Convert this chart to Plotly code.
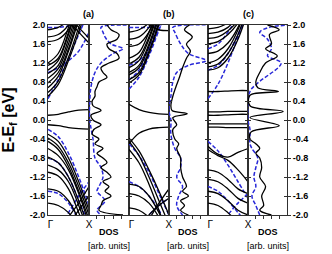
import plotly.graph_objects as go

# ---------------- data ----------------
K = [0.0, 0.25, 0.5, 0.75, 1.0]          # k-path samples (Gamma -> X)
Y_TICKS = [-2.0, -1.6, -1.2, -0.8, -0.4, 0.0, 0.4, 0.8, 1.2, 1.6, 2.0]
Y_TICK_TEXT = ["-2.0", "-1.6", "-1.2", "-0.8", "-0.4", "0.0", "0.4", "0.8", "1.2", "1.6", "2.0"]
K_LABELS = ["Γ", "X"]
PANEL_TITLES = ["(a)", "(b)", "(c)"]

BANDS_A_BLACK = [
    [0.50, 0.75, 1.25, 1.85, 2.5], [0.58, 0.82, 1.32, 1.95, 2.6], [0.68, 0.92, 1.45, 2.1, 2.7],
    [0.78, 1.0, 1.5, 2.2, 2.8], [0.88, 1.08, 1.6, 2.3, 2.9], [0.98, 1.15, 1.7, 2.4, 3.0],
    [1.05, 1.25, 1.8, 2.5, 3.0], [1.15, 1.3, 1.85, 2.5, 3.0], [1.2, 1.4, 1.95, 2.6, 3.0],
    [1.65, 1.7, 1.9, 2.3, 2.8], [1.75, 1.8, 2.0, 2.4, 2.8], [1.9, 1.95, 2.1, 2.4, 2.8],
    [2.6, 2.4, 2.1, 1.85, 1.62], [2.8, 2.5, 2.2, 1.95, 1.72],
    [0.10, 0.12, 0.17, 0.21, 0.22], [-0.10, -0.12, -0.16, -0.18, -0.19],
    [-0.30, -0.45, -0.8, -1.3, -1.9], [-0.38, -0.55, -0.9, -1.4, -2.0], [-0.45, -0.62, -0.98, -1.5, -2.1],
    [-0.6, -0.75, -1.05, -1.55, -2.2], [-0.78, -0.9, -1.2, -1.7, -2.3],
    [-0.95, -1.05, -1.3, -1.8, -2.4], [-1.1, -1.18, -1.45, -1.95, -2.5],
    [-1.45, -1.5, -1.7, -2.1, -2.6], [-1.75, -1.8, -1.95, -2.3, -2.8],
    [-2.8, -2.5, -2.05, -1.75, -1.4], [-3.0, -2.7, -2.2, -1.9, -1.6],
]
BANDS_A_BLUE = [
    [0.45, 0.85, 1.3, 1.8, 2.3], [1.0, 1.1, 1.25, 1.45, 1.85], [1.95, 1.95, 1.98, 2.05, 2.1],
    [-0.2, -0.35, -0.7, -1.2, -1.8], [-0.8, -0.9, -1.2, -1.7, -2.2], [-1.5, -1.55, -1.75, -2.1, -2.5],
    [-2.6, -2.3, -1.95, -1.6, -1.3],
]
BANDS_B_BLACK = [
    [0.78, 0.95, 1.4, 2.0, 2.6], [0.85, 1.0, 1.45, 2.05, 2.7], [0.95, 1.1, 1.55, 2.15, 2.8],
    [1.0, 1.15, 1.6, 2.2, 2.8], [1.1, 1.25, 1.7, 2.3, 2.9], [1.18, 1.32, 1.75, 2.35, 3.0],
    [1.3, 1.42, 1.85, 2.4, 3.0], [1.55, 1.6, 1.85, 2.3, 2.9], [1.7, 1.75, 1.95, 2.35, 2.9],
    [1.85, 1.9, 2.05, 2.4, 2.9], [2.4, 2.2, 2.0, 1.9, 1.88],
    [0.33, 0.22, 0.16, 0.13, 0.12], [-0.5, -0.28, -0.19, -0.16, -0.15],
    [-0.38, -0.65, -1.05, -1.5, -2.0], [-0.45, -0.75, -1.2, -1.7, -2.2], [-0.62, -0.9, -1.35, -1.9, -2.5],
    [-1.35, -1.4, -1.6, -1.95, -2.4], [-1.55, -1.6, -1.75, -2.05, -2.5],
    [-1.85, -1.9, -2.05, -2.3, -2.7],
    [-3.0, -2.5, -2.1, -1.75, -1.45], [-2.6, -2.3, -2.0, -1.8, -1.65],
]
BANDS_B_BLUE = [
    [0.85, 1.05, 1.5, 2.05, 2.6], [0.65, 0.9, 1.35, 1.9, 2.5], [1.15, 1.25, 1.5, 1.9, 2.4],
    [1.95, 1.95, 1.95, 2.0, 2.05],
    [-0.5, -0.75, -1.1, -1.55, -2.0], [-1.3, -1.4, -1.6, -1.9, -2.3], [-2.6, -2.3, -2.0, -1.8, -1.65],
]
BANDS_C_BLACK = [
    [1.05, 1.1, 1.3, 1.7, 2.3], [1.12, 1.18, 1.4, 1.8, 2.4], [1.2, 1.28, 1.5, 1.9, 2.5],
    [1.4, 1.45, 1.62, 1.95, 2.5], [1.6, 1.65, 1.8, 2.05, 2.6], [1.72, 1.75, 1.88, 2.1, 2.6],
    [1.82, 1.85, 1.95, 2.2, 2.6], [1.92, 1.95, 2.05, 2.3, 2.7],
    [0.6, 0.6, 0.61, 0.62, 0.62], [0.17, 0.17, 0.18, 0.18, 0.18], [0.1, 0.1, 0.11, 0.12, 0.12],
    [-0.08, -0.08, -0.08, -0.08, -0.08], [-0.15, -0.15, -0.16, -0.16, -0.16],
    [-0.55, -0.72, -0.78, -0.68, -0.6], [-0.62, -0.75, -0.85, -1.05, -1.3],
    [-1.05, -1.1, -1.25, -1.45, -1.55], [-1.25, -1.3, -1.45, -1.65, -1.75],
    [-1.5, -1.55, -1.7, -1.9, -2.0], [-1.75, -1.8, -1.95, -2.15, -2.25],
]
BANDS_C_BLUE = [
    [0.45, 0.75, 1.2, 1.75, 2.3], [1.05, 1.15, 1.4, 1.8, 2.3], [1.5, 1.6, 1.85, 2.2, 2.6],
    [-0.45, -0.65, -0.95, -1.3, -1.65], [-1.4, -1.5, -1.7, -1.95, -2.2], [-2.6, -2.3, -2.0, -1.75, -1.55],
]

DOS_A_E = [2.0, 1.9, 1.8, 1.7, 1.6, 1.5, 1.4, 1.3, 1.2, 1.1, 1.0, 0.9, 0.8, 0.7, 0.6, 0.5, 0.4, 0.3, 0.2, 0.1,
           0.0, -0.1, -0.2, -0.3, -0.4, -0.5, -0.6, -0.7, -0.8, -0.9, -1.0, -1.1, -1.2, -1.3, -1.4, -1.5,
           -1.6, -1.7, -1.8, -1.9, -2.0]
DOS_A_BLACK = [0.45, 0.55, 0.75, 0.7, 0.45, 0.5, 0.7, 0.75, 0.5, 0.3, 0.35, 0.45, 0.25, 0.2, 0.15, 0.15, 0.08,
               0.1, 0.3, 0.05, 0.1, 0.3, 0.12, 0.08, 0.25, 0.15, 0.35, 0.2, 0.35, 0.45, 0.3, 0.45, 0.55, 0.35,
               0.5, 0.4, 0.55, 0.35, 0.3, 0.25, 0.85]
DOS_A_BLUE_E = [2.0, 1.95, 1.85, 1.75, 1.6, 1.5, 1.4, 1.2, 1.0, 0.7, 0.4, 0.0, -0.4, -0.8, -1.0, -1.2, -1.4,
                -1.5, -1.7, -1.9, -2.0]
DOS_A_BLUE = [1.1, 0.3, 0.35, 0.4, 0.55, 0.85, 0.6, 0.3, 0.15, 0.05, 0.02, 0.02, 0.1, 0.15, 0.3, 0.35, 0.25,
              0.2, 0.4, 0.2, 0.3]

DOS_B_E = [2.0, 1.9, 1.75, 1.6, 1.45, 1.3, 1.1, 0.9, 0.7, 0.5, 0.3, 0.2, 0.13, 0.05, -0.1, -0.2, -0.4, -0.5,
           -0.6, -0.8, -1.0, -1.2, -1.4, -1.5, -1.6, -1.7, -1.8, -1.9, -2.0]
DOS_B_BLACK = [0.53, 0.4, 0.6, 0.45, 0.55, 0.45, 0.35, 0.27, 0.18, 0.1, 0.05, 0.08, 0.47, 0.1, 0.2, 0.1, 0.15,
               0.25, 0.2, 0.3, 0.3, 0.35, 0.45, 0.35, 0.5, 0.3, 0.4, 0.3, 0.5]
DOS_B_BLUE_E = [2.0, 1.95, 1.85, 1.6, 1.4, 1.25, 1.15, 1.0, 0.8, 0.5, 0.2, 0.0, -0.3, -0.6, -0.8, -1.0, -1.2,
                -1.4, -1.6, -1.8, -2.0]
DOS_B_BLUE = [1.1, 0.1, 0.15, 0.3, 0.5, 0.95, 0.5, 0.2, 0.1, 0.05, 0.0, 0.05, 0.05, 0.15, 0.3, 0.3, 0.2, 0.35,
              0.25, 0.2, 0.35]

DOS_C_E = [2.0, 1.9, 1.8, 1.6, 1.5, 1.35, 1.2, 1.0, 0.8, 0.68, 0.6, 0.52, 0.3, 0.18, 0.05, -0.12, -0.25,
           -0.4, -0.5, -0.6, -0.7, -0.8, -1.0, -1.2, -1.4, -1.6, -1.8, -1.9, -2.0]
DOS_C_BLACK = [0.5, 0.8, 0.55, 0.6, 0.45, 0.75, 0.45, 0.3, 0.2, 0.25, 0.78, 0.05, 0.05, 0.9, 0.05, 0.8, 0.08,
               0.05, 0.2, 0.3, 0.2, 0.3, 0.35, 0.3, 0.45, 0.35, 0.4, 0.3, 0.6]
DOS_C_BLUE_E = [2.0, 1.95, 1.85, 1.7, 1.5, 1.35, 1.2, 0.78, 0.6, 0.0, -0.2, -0.5, -0.6, -0.8, -1.0, -1.2, -1.4,
                -1.6, -1.8, -2.0]
DOS_C_BLUE = [1.1, 0.55, 0.3, 0.5, 0.6, 0.5, 0.85, 0.25, 0.05, 0.0, 0.05, 0.05, 0.1, 0.25, 0.2, 0.15, 0.2, 0.1,
              0.2, 0.3]

# ---------------- style ----------------
BLACK = "#000000"
BLUE = "#2828d8"
FRAME = "#303030"
FONT = "Liberation Sans"
BOUNDS = [0.0, 0.1715, 0.339, 0.506, 0.669, 0.837, 1.0]

fig = go.Figure()


def sfx(i):
    return "" if i == 1 else str(i)


def add_lines(xs_list, ys_list, idx, color, dash, width):
    for xs, ys in zip(xs_list, ys_list):
        fig.add_trace(go.Scatter(
            x=xs, y=ys, mode="lines", xaxis="x" + sfx(idx), yaxis="y" + sfx(idx),
            line=dict(color=color, dash=dash, width=width, shape="spline", smoothing=1.0),
            hoverinfo="skip", showlegend=False))


panels = [
    (BANDS_A_BLACK, BANDS_A_BLUE, DOS_A_E, DOS_A_BLACK, DOS_A_BLUE_E, DOS_A_BLUE),
    (BANDS_B_BLACK, BANDS_B_BLUE, DOS_B_E, DOS_B_BLACK, DOS_B_BLUE_E, DOS_B_BLUE),
    (BANDS_C_BLACK, BANDS_C_BLUE, DOS_C_E, DOS_C_BLACK, DOS_C_BLUE_E, DOS_C_BLUE),
]

for p, (bb, bl, de, db, dbe, dbl) in enumerate(panels):
    band_idx = 2 * p + 1
    dos_idx = 2 * p + 2
    add_lines([K] * len(bl), bl, band_idx, BLUE, "4px,2px", 1.5)
    add_lines([K] * len(bb), bb, band_idx, BLACK, "solid", 1.3)
    add_lines([dbl], [dbe], dos_idx, BLUE, "4px,2px", 1.5)
    add_lines([db], [de], dos_idx, BLACK, "solid", 1.3)

# invisible trace for the right-hand axis
fig.add_trace(go.Scatter(x=[0.5], y=[0], xaxis="x6", yaxis="y7", mode="markers",
                         marker=dict(opacity=0), hoverinfo="skip", showlegend=False))

layout = dict(
    width=332, height=254, autosize=False,
    margin=dict(l=48, r=45, t=25, b=39, pad=0),
    paper_bgcolor="white", plot_bgcolor="white",
    font=dict(family=FONT, color="black", size=9),
    hovermode=False, showlegend=False,
)

tickfont = dict(family=FONT, size=9, color="black", weight="bold")

for i in range(1, 7):
    is_band = (i % 2 == 1)
    xa = dict(domain=[BOUNDS[i - 1], BOUNDS[i]], range=[0, 1], anchor="y" + sfx(i),
              showline=True, mirror=True, linecolor=FRAME, linewidth=1,
              showgrid=False, zeroline=False, fixedrange=True)
    if is_band:
        xa.update(tickmode="array", tickvals=[0.06, 1], ticktext=K_LABELS, ticks="",
                  tickfont=dict(family=FONT, size=10, color="black"))
    else:
        xa.update(tickmode="array", tickvals=[0.2, 0.4, 0.6, 0.8], ticks="outside",
                  ticklen=3, tickcolor=FRAME, showticklabels=False)
    layout["xaxis" + sfx(i)] = xa
    ya = dict(range=[-2, 2], anchor="x" + sfx(i), domain=[0, 1],
              showline=True, mirror="ticks", linecolor=FRAME, linewidth=1,
              tickmode="array", tickvals=Y_TICKS, ticktext=Y_TICK_TEXT,
              ticks="inside", ticklen=3, tickcolor=FRAME,
              showgrid=False, zeroline=False, fixedrange=True,
              showticklabels=(i == 1), tickfont=tickfont)
    layout["yaxis" + sfx(i)] = ya

layout["yaxis7"] = dict(range=[-2, 2], anchor="x6", overlaying="y6", side="right",
                        showline=False, tickmode="array", tickvals=Y_TICKS, ticktext=Y_TICK_TEXT,
                        ticks="outside", ticklen=3, tickcolor=FRAME, showgrid=False,
                        zeroline=False, fixedrange=True, tickfont=tickfont)

annotations = [
    dict(text="<b>E-E<sub>f</sub> [eV]</b>", xref="paper", yref="paper", x=-0.165, y=0.5,
         textangle=-90, showarrow=False, font=dict(family=FONT, size=16, color="black"),
         xanchor="center", yanchor="middle"),
]
for p in range(3):
    xc = BOUNDS[2 * p + 1]
    annotations.append(dict(text="<b>" + PANEL_TITLES[p] + "</b>", xref="paper", yref="paper",
                            x=xc, y=1.058, showarrow=False, xanchor="center", yanchor="middle",
                            font=dict(family=FONT, size=9, color="black")))
    dc = (BOUNDS[2 * p + 1] + BOUNDS[2 * p + 2]) / 2
    annotations.append(dict(text="<b>DOS</b>", xref="paper", yref="paper", x=dc, y=-0.09,
                            showarrow=False, xanchor="center", yanchor="middle",
                            font=dict(family=FONT, size=9, color="black")))
    annotations.append(dict(text="[arb. units]", xref="paper", yref="paper", x=dc, y=-0.163,
                            showarrow=False, xanchor="center", yanchor="middle",
                            font=dict(family=FONT, size=9, color="black")))
layout["annotations"] = annotations

fig.update_layout(**layout)
fig.write_html("out.html", config={"displayModeBar": False, "staticPlot": True},
               post_script="document.body.style.margin='0';document.body.style.padding='0';")
